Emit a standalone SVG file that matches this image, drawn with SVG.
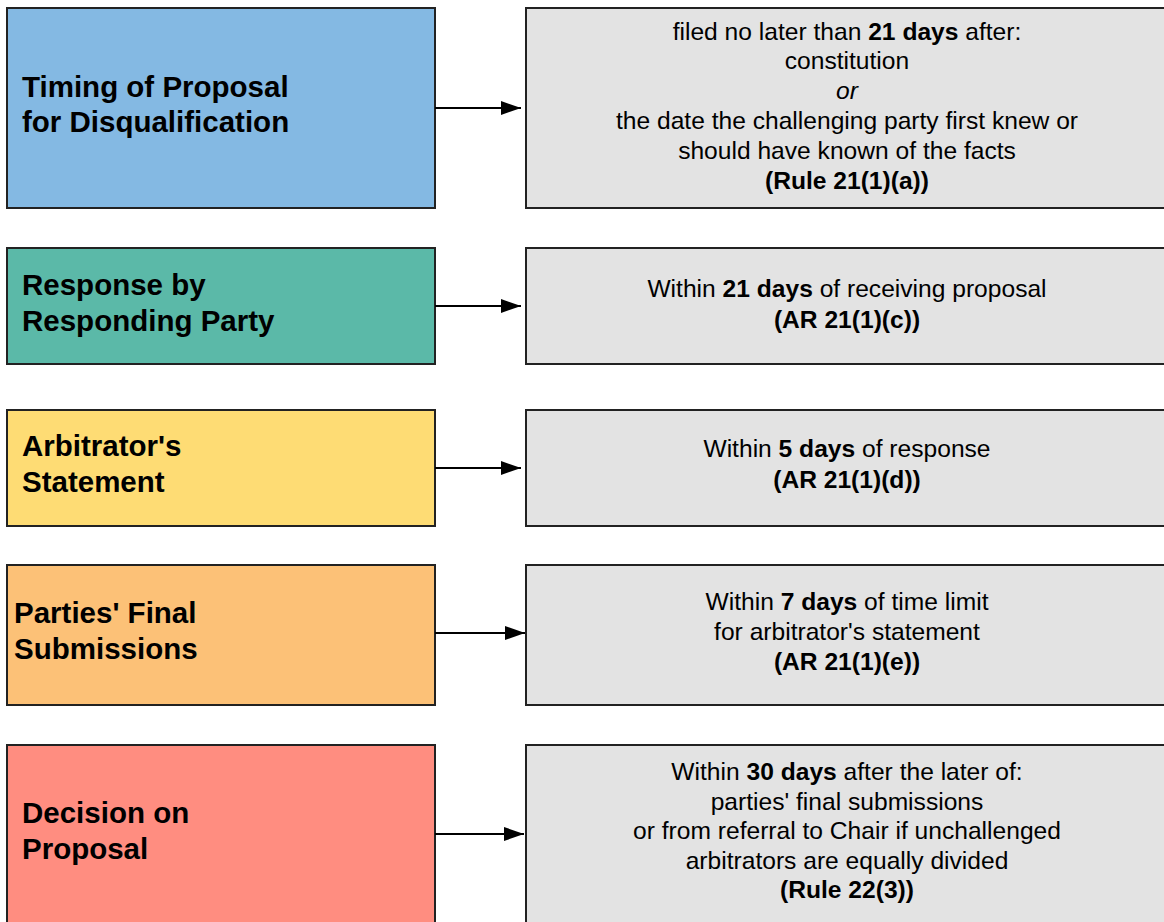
<svg xmlns="http://www.w3.org/2000/svg" width="1164" height="922" viewBox="0 0 1164 922">
  <defs>
    <marker id="arrow" viewBox="0 0 20 14" refX="20" refY="7" markerWidth="20" markerHeight="14" markerUnits="userSpaceOnUse" orient="auto">
      <path d="M0,0 L20,7 L0,14 Z" fill="#000"/>
    </marker>
    <style>
      .box { stroke: #222; stroke-width: 2; }
      .detail { fill: #e3e3e3; }
      .label { font-family: "Liberation Sans", Arial, sans-serif; font-weight: bold; font-size: 29.5px; fill: #000; }
      .desc { font-family: "Liberation Sans", Arial, sans-serif; font-size: 24.6px; fill: #000; text-anchor: middle; }
      .b { font-weight: bold; }
      .conn { stroke: #000; stroke-width: 2; fill: none; marker-end: url(#arrow); }
    </style>
  </defs>
  <rect width="1164" height="922" fill="#fff"/>

  <!-- Stage 1 -->
  <g id="timing">
    <rect class="box" x="7" y="8" width="428" height="200" fill="#84b9e3"/>
    <text class="label" x="22" y="97">Timing of Proposal</text>
    <text class="label" x="22" y="132">for Disqualification</text>
  </g>
  <g id="timing-limit">
    <rect class="box detail" x="526" y="8" width="642" height="200"/>
    <text class="desc" x="847" y="40">filed no later than <tspan class="b">21 days</tspan> after:</text>
    <text class="desc" x="847" y="69">constitution</text>
    <text class="desc" x="847" y="99" font-style="italic">or</text>
    <text class="desc" x="847" y="129">the date the challenging party first knew or</text>
    <text class="desc" x="847" y="159">should have known of the facts</text>
    <text class="desc b" x="847" y="189">(Rule 21(1)(a))</text>
  </g>

  <!-- Stage 2 -->
  <g id="response">
    <rect class="box" x="7" y="248" width="428" height="116" fill="#5bb9a8"/>
    <text class="label" x="22" y="295">Response by</text>
    <text class="label" x="22" y="331">Responding Party</text>
  </g>
  <g id="response-limit">
    <rect class="box detail" x="526" y="248" width="642" height="116"/>
    <text class="desc" x="847" y="297">Within <tspan class="b">21 days</tspan> of receiving proposal</text>
    <text class="desc b" x="847" y="328">(AR 21(1)(c))</text>
  </g>

  <!-- Stage 3 -->
  <g id="statement">
    <rect class="box" x="7" y="410" width="428" height="116" fill="#fedc74"/>
    <text class="label" x="22" y="456">Arbitrator's</text>
    <text class="label" x="22" y="492">Statement</text>
  </g>
  <g id="statement-limit">
    <rect class="box detail" x="526" y="410" width="642" height="116"/>
    <text class="desc" x="847" y="457">Within <tspan class="b">5 days</tspan> of response</text>
    <text class="desc b" x="847" y="488">(AR 21(1)(d))</text>
  </g>

  <!-- Stage 4 -->
  <g id="submissions">
    <rect class="box" x="7" y="565" width="428" height="140" fill="#fcc177"/>
    <text class="label" x="14" y="623">Parties' Final</text>
    <text class="label" x="14" y="659">Submissions</text>
  </g>
  <g id="submissions-limit">
    <rect class="box detail" x="526" y="565" width="642" height="140"/>
    <text class="desc" x="847" y="610">Within <tspan class="b">7 days</tspan> of time limit</text>
    <text class="desc" x="847" y="640">for arbitrator's statement</text>
    <text class="desc b" x="847" y="670">(AR 21(1)(e))</text>
  </g>

  <!-- Stage 5 -->
  <g id="decision">
    <rect class="box" x="7" y="745" width="428" height="180" fill="#ff8d80"/>
    <text class="label" x="22" y="823">Decision on</text>
    <text class="label" x="22" y="859">Proposal</text>
  </g>
  <g id="decision-limit">
    <rect class="box detail" x="526" y="745" width="642" height="180"/>
    <text class="desc" x="847" y="780">Within <tspan class="b">30 days</tspan> after the later of:</text>
    <text class="desc" x="847" y="810">parties' final submissions</text>
    <text class="desc" x="847" y="839">or from referral to Chair if unchallenged</text>
    <text class="desc" x="847" y="869">arbitrators are equally divided</text>
    <text class="desc b" x="847" y="898">(Rule 22(3))</text>
  </g>

  <!-- Connectors -->
  <g id="connectors">
    <line class="conn" x1="435" y1="108" x2="521" y2="108"/>
    <line class="conn" x1="435" y1="306" x2="521" y2="306"/>
    <line class="conn" x1="435" y1="468" x2="521" y2="468"/>
    <line class="conn" x1="435" y1="633" x2="525" y2="633"/>
    <line class="conn" x1="435" y1="834" x2="524" y2="834"/>
  </g>
</svg>
